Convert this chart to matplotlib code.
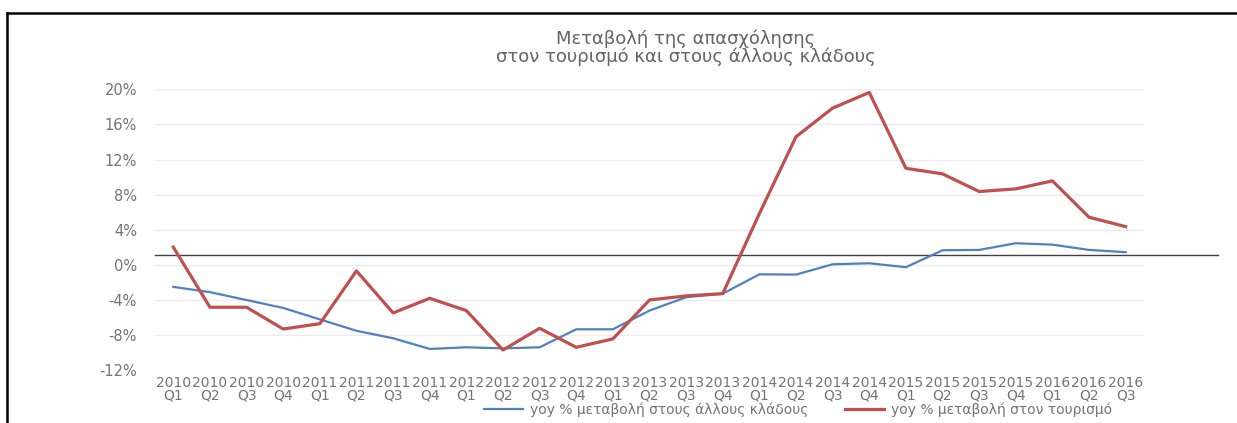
import matplotlib
matplotlib.use("Agg")
import matplotlib.pyplot as plt
from matplotlib.lines import Line2D

plt.rcParams['font.family'] = ['DejaVu Sans']

years = ["2010"] * 4 + ["2011"] * 4 + ["2012"] * 4 + ["2013"] * 4 + ["2014"] * 4 + ["2015"] * 4 + ["2016"] * 3
quarters = ["Q1", "Q2", "Q3", "Q4"] * 6 + ["Q1", "Q2", "Q3"]
categories = [f"{y}\n{q}" for y, q in zip(years, quarters)]

other_sectors = [-2.5, -3.1, -4.0, -4.9, -6.2, -7.5, -8.35, -9.57, -9.38, -9.5, -9.38, -7.33,
                 -7.33, -5.2, -3.68, -3.27, -1.07, -1.1, 0.07, 0.19, -0.26, 1.67, 1.71, 2.47,
                 2.31, 1.71, 1.45]
tourism = [2.02, -4.82, -4.82, -7.3, -6.69, -0.68, -5.47, -3.8, -5.2, -9.69, -7.22, -9.38,
           -8.43, -3.99, -3.53, -3.27, 5.85, 14.6, 17.86, 19.64, 11.0, 10.37, 8.36, 8.66,
           9.57, 5.43, 4.36]
reference_level = 1.1

y_ticks = [-12, -8, -4, 0, 4, 8, 12, 16, 20]
y_tick_labels = ["-12%", "-8%", "-4%", "0%", "4%", "8%", "12%", "16%", "20%"]

title_lines = "Μεταβολή της απασχόλησης\nστον τουρισμό και στους άλλους κλάδους"
label_other = "yoy % μεταβολή στους άλλους κλάδους"
label_tourism = "yoy % μεταβολή στον τουρισμό"

W, H = 1237, 423
fig = plt.figure(figsize=(W / 100, H / 100), dpi=100)
fig.patch.set_facecolor("white")
ax = fig.add_axes([155 / W, 1 - 370.3 / H, (1144 - 155) / W, (370.3 - 89.3) / H])

x = list(range(len(categories)))
ax.plot(x, other_sectors, color="#4F81BD", lw=1.6, label=label_other, zorder=3)
ax.plot(x, tourism, color="#C0504D", lw=2.3, label=label_tourism, zorder=4)

# reference line extending beyond plot area
n = len(categories)
ax.plot([-0.5, n - 0.5 + (1218 - 1144) / ((1144 - 155) / n)], [reference_level, reference_level],
        color="#404040", lw=1.0, clip_on=False, zorder=2)

ax.set_xlim(-0.5, n - 0.5)
ax.set_ylim(-12, 20)
ax.set_yticks(y_ticks)
ax.set_yticklabels(y_tick_labels)
ax.set_xticks(x)
ax.set_xticklabels(categories)
for lbl in ax.get_xticklabels():
    lbl.set_linespacing(0.9)
ax.tick_params(axis="y", length=0, pad=13, labelsize=10.5, labelcolor="#747474")
ax.tick_params(axis="x", length=0, pad=4, labelsize=10, labelcolor="#747474")
ax.grid(axis="y", color="#EBEBEB", lw=1.0)
ax.set_axisbelow(True)
for s in ax.spines.values():
    s.set_visible(False)

fig.text(686 / W, 1 - 47.5 / H, title_lines, ha="center", va="center", fontsize=13,
         color="#646464", linespacing=0.95)

fig.legend(loc="center", bbox_to_anchor=(798 / W, 1 - 410 / H), ncol=2, frameon=False,
           fontsize=10, handlelength=2.8, columnspacing=2.6, handletextpad=0.5, labelcolor="#747474")

# outer border (top and left)
fig.add_artist(Line2D([7 / W, 1], [1 - 13.5 / H, 1 - 13.5 / H], transform=fig.transFigure,
                      color="black", lw=1.8))
fig.add_artist(Line2D([7 / W, 7 / W], [0, 1 - 13.5 / H], transform=fig.transFigure,
                      color="black", lw=1.8))

fig.savefig("out.png", dpi=100)
